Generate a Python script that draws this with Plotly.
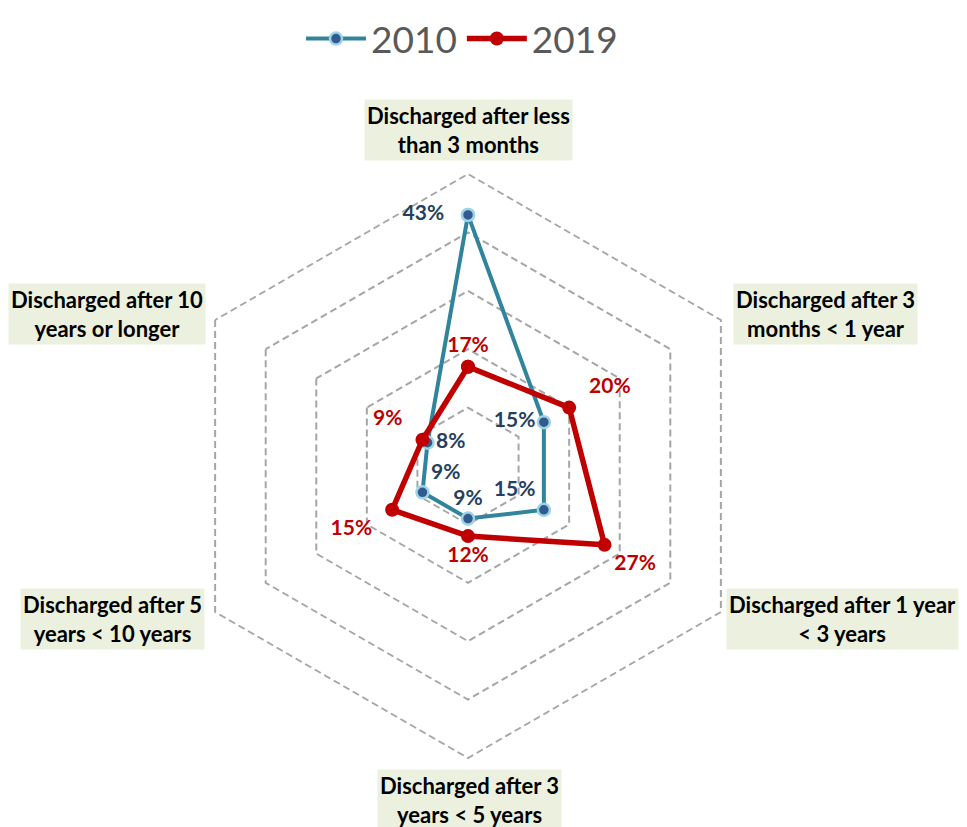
import plotly.graph_objects as go

categories = [
    "Discharged after less than 3 months",
    "Discharged after 3 months < 1 year",
    "Discharged after 1 year < 3 years",
    "Discharged after 3 years < 5 years",
    "Discharged after 5 years < 10 years",
    "Discharged after 10 years or longer",
]
wrapped_labels = [
    "Discharged after less<br>than 3 months",
    "Discharged after 3<br>months < 1 year",
    "Discharged after 1 year<br>< 3 years",
    "Discharged after 3<br>years < 5 years",
    "Discharged after 5<br>years < 10 years",
    "Discharged after 10<br>years or longer",
]
values_2010 = [43, 15, 15, 9, 9, 8]
values_2019 = [17, 20, 27, 12, 15, 9]

pos_2010 = ["middle left", "middle left", "top left", "top center", "top right", "middle right"]
pos_2019 = ["top center", "top right", "bottom right", "bottom center", "bottom left", "top left"]

FONT = "Lato, Calibri, sans-serif"
NB = "\u00a0"
W, H = 967, 827
OFF = 8  # page body margin

# a little padding so some labels sit further from their points
pad_2010 = [NB * 3, "", "", "", "", ""]
pad_2019 = ["", NB * 2, "", "", NB * 2, NB * 2]


def lbl(v, p, pos):
    return f"{v}%{p}" if "left" in pos else f"{p}{v}%"


fig = go.Figure()

fig.add_trace(go.Scatterpolar(
    r=values_2010 + values_2010[:1],
    theta=categories + categories[:1],
    name="2010",
    mode="lines+markers+text",
    text=[lbl(v, p, s) for v, p, s in zip(values_2010, pad_2010, pos_2010)] + [""],
    textposition=pos_2010 + ["top center"],
    textfont=dict(family=FONT, size=21, color="#243F60", weight="bold"),
    line=dict(color="#31849B", width=4),
    marker=dict(size=12, color="#335A8F", line=dict(color="#9CD3E6", width=2.5)),
))

fig.add_trace(go.Scatterpolar(
    r=values_2019 + values_2019[:1],
    theta=categories + categories[:1],
    name="2019",
    mode="lines+markers+text",
    text=[lbl(v, p, s) for v, p, s in zip(values_2019, pad_2019, pos_2019)] + [""],
    textposition=pos_2019 + ["top center"],
    textfont=dict(family=FONT, size=21, color="#C00000", weight="bold"),
    line=dict(color="#C00000", width=5.5),
    marker=dict(size=14, color="#C00000"),
))

# category labels with shaded boxes (screen pixel centres)
label_xy = [(468, 130), (825, 314), (842, 619), (469, 800), (112, 619), (107, 314)]
for txt, (px, py) in zip(wrapped_labels, label_xy):
    fig.add_annotation(
        x=(px - OFF) / W, y=1 - (py - OFF) / H, xref="paper", yref="paper",
        xanchor="center", yanchor="middle",
        text=f"<b>{txt}</b>", showarrow=False,
        font=dict(family=FONT, size=22, color="#000000"),
        bgcolor="#EBF1DE", borderpad=2,
    )

# polar: centre (468, 466) on screen, outer ring r=50 at 292 px
cx, cy, R = 468 - OFF, 466 - OFF, 292 * 52 / 50
fig.update_layout(
    width=W, height=H,
    margin=dict(l=0, r=0, t=0, b=0, autoexpand=False),
    paper_bgcolor="white",
    plot_bgcolor="white",
    font=dict(family=FONT),
    showlegend=True,
    legend=dict(
        orientation="h", x=(462 - OFF) / W, xanchor="center", y=1.0, yanchor="top",
        font=dict(family=FONT, size=37, color="#595959"),
        itemwidth=60,
    ),
    polar=dict(
        domain=dict(x=[(cx - R) / W, (cx + R) / W], y=[1 - (cy + R) / H, 1 - (cy - R) / H]),
        bgcolor="white",
        gridshape="linear",
        radialaxis=dict(
            range=[0, 52], tickvals=[10, 20, 30, 40, 50], showticklabels=False, ticks="",
            showline=False, gridcolor="#A6A6A6", griddash="7px,4px", gridwidth=1.5,
        ),
        angularaxis=dict(
            direction="clockwise", rotation=90, showticklabels=False, ticks="",
            showgrid=False, showline=False,
        ),
    ),
)

fig.write_html("out.html")
